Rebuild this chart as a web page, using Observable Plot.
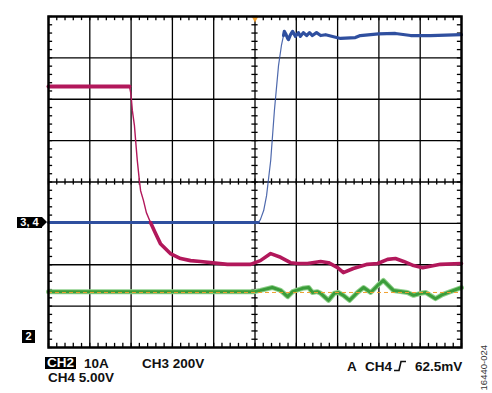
<!DOCTYPE html>
<html><head><meta charset="utf-8">
<script src="https://cdn.jsdelivr.net/npm/d3@7"></script>
<script src="https://cdn.jsdelivr.net/npm/@observablehq/plot@0.6"></script>
<style>
body{margin:0;background:#fff;font-family:"Liberation Sans",Arial,sans-serif;}
#wrap{position:relative;width:492px;height:393px;overflow:hidden;}
#wrap svg{position:absolute;left:0;top:0;}
.lbl{position:absolute;font-weight:bold;font-size:13.5px;color:#111;white-space:nowrap;line-height:13px;}
.box{background:#000;color:#fff;padding:0 2px;line-height:12px;}
.marker{position:absolute;background:#000;color:#fff;font-weight:bold;font-size:11px;text-align:center;white-space:nowrap;}
.marker.arrow::after{content:"";position:absolute;right:-5px;top:0;border-left:5px solid #000;border-top:5.5px solid transparent;border-bottom:5.5px solid transparent;}
.code{position:absolute;font-size:9.5px;color:#333;writing-mode:vertical-rl;transform:rotate(180deg);white-space:nowrap;}
</style></head><body><div id="wrap"></div>
<script>
// x in horizontal divisions (0-10), y in vertical divisions (0-8)
const blueX = [0,5.08,5.13,5.21,5.28,5.38,5.47,5.57,5.64,5.69,5.71,5.74,5.79,5.81,5.86,5.91,5.98,6.05,6.10,6.17,6.25,6.32,6.39,6.49,6.59,6.71,6.95,7.07,7.43,7.55,7.99,8.40,8.77,9.25,10];
const blueY = [3.02,3.02,3.09,3.31,3.67,4.52,5.73,6.82,7.30,7.54,7.64,7.59,7.47,7.44,7.56,7.64,7.52,7.61,7.52,7.61,7.54,7.61,7.54,7.61,7.54,7.56,7.50,7.47,7.49,7.54,7.58,7.59,7.54,7.54,7.56];
const magX = [0,1.96,1.99,2.01,2.03,2.08,2.11,2.15,2.20,2.23,2.30,2.37,2.47,2.59,2.71,2.95,3.20,3.44,3.68,4.33,4.89,5.13,5.38,5.62,5.86,6.03,6.27,6.59,6.78,7.00,7.14,7.38,7.72,7.97,8.21,8.40,8.60,8.84,9.06,9.49,10];
const magY = [6.31,6.31,6.16,5.97,5.73,5.37,5.00,4.52,4.04,3.79,3.55,3.26,3.02,2.76,2.51,2.27,2.15,2.10,2.08,2.01,2.01,2.10,2.27,2.18,2.05,2.03,2.03,2.08,2.05,1.93,1.81,1.91,2.01,2.03,2.13,2.15,2.08,1.98,1.93,2.01,2.03];
const greenX = [0,4.99,5.13,5.42,5.62,5.79,5.91,6.15,6.30,6.39,6.51,6.59,6.78,6.92,7.02,7.14,7.29,7.48,7.63,7.80,7.97,8.11,8.23,8.35,8.69,8.84,9.01,9.13,9.37,9.54,9.73,10];
const greenY = [1.35,1.35,1.38,1.45,1.38,1.23,1.35,1.43,1.45,1.33,1.35,1.31,1.14,1.31,1.33,1.26,1.14,1.33,1.45,1.33,1.50,1.62,1.50,1.38,1.33,1.26,1.31,1.33,1.18,1.28,1.35,1.45];
const triggerLevel = 1.33;
const marker34 = 3.02;
const marker2 = 0.25;
const gridX = [1,2,3,4,5,6,7,8,9];
const gridY = [1,2,3,4,5,6,7];

const pts = (xs, ys) => xs.map((x, i) => ({x, y: ys[i]}));
const blue = pts(blueX, blueY), mag = pts(magX, magY), green = pts(greenX, greenY);
const minorX = d3.range(0, 10.001, 0.2), minorY = d3.range(0, 8.001, 0.2);
const T = 0.1, C = 0.075;
const tk = {stroke: "#000", strokeWidth: 1.3};
const BLUE = "#2f4f9f", MAG = "#b2185b", GREEN = "#3b9d3a";

const chart = Plot.plot({
  width: 492, height: 350,
  marginLeft: 48, marginRight: 31, marginTop: 16, marginBottom: 3,
  x: {domain: [0, 10], axis: null},
  y: {domain: [0, 8], axis: null},
  marks: [
    Plot.ruleX(gridX, {...tk}),
    Plot.ruleY(gridY, {...tk}),
    Plot.ruleX(minorX, {x: d => d, y1: 8, y2: 8 - T, ...tk}),
    Plot.ruleX(minorX, {x: d => d, y1: 0, y2: T, ...tk}),
    Plot.ruleY(minorY, {y: d => d, x1: 0, x2: T, ...tk}),
    Plot.ruleY(minorY, {y: d => d, x1: 10, x2: 10 - T, ...tk}),
    Plot.ruleX(minorX, {x: d => d, y1: 4 - C, y2: 4 + C, ...tk}),
    Plot.ruleY(minorY, {y: d => d, x1: 5 - C, x2: 5 + C, ...tk}),
    // blue
    Plot.line(blue, {x: "x", y: "y", stroke: BLUE, strokeWidth: 1.2, strokeOpacity: 0.85}),
    Plot.line(blue.slice(0, 2), {x: "x", y: "y", stroke: BLUE, strokeWidth: 3}),
    Plot.line(blue.slice(9), {x: "x", y: "y", stroke: BLUE, strokeWidth: 3.2}),
    // magenta
    Plot.line(mag, {x: "x", y: "y", stroke: MAG, strokeWidth: 1.4}),
    Plot.line(mag.slice(0, 2), {x: "x", y: "y", stroke: MAG, strokeWidth: 4}),
    Plot.line(mag.slice(12), {x: "x", y: "y", stroke: MAG, strokeWidth: 3.6}),
    // green
    Plot.line(green, {x: "x", y: "y", stroke: "#8fcf8a", strokeWidth: 5}),
    Plot.line(green, {x: "x", y: "y", stroke: GREEN, strokeWidth: 3}),
    // trigger level
    Plot.ruleY([triggerLevel], {stroke: "#f0a030", strokeWidth: 1, strokeDasharray: "4,3"}),
    Plot.dot([5], {x: d => d, y: 8, symbol: "triangle", r: 2.5, fill: "#f0a030", rotate: 180, dy: 2}),
    Plot.frame({stroke: "#000", strokeWidth: 2.5})
  ]
});
const wrap = document.getElementById("wrap");
wrap.appendChild(chart);

const ys = chart.scale("y");
function addEl(cls, html, style) {
  const d = document.createElement("div");
  d.className = cls; d.innerHTML = html;
  Object.assign(d.style, style);
  wrap.appendChild(d);
  return d;
}
const y34 = ys.apply(marker34), y2 = ys.apply(marker2);
addEl("marker arrow", "3, 4", {left: "17px", top: (y34 - 5.5) + "px", width: "25px", height: "11px", lineHeight: "11px"});
addEl("marker", "2", {left: "22px", top: (y2 - 6.5) + "px", width: "13px", height: "13px", lineHeight: "13px"});

addEl("lbl box", "CH2", {left: "45px", top: "357px"});
addEl("lbl", "10A", {left: "84px", top: "357px"});
addEl("lbl", "CH3 200V", {left: "142px", top: "357px"});
addEl("lbl", "CH4 5.00V", {left: "48px", top: "371px"});
addEl("lbl", "A", {left: "347px", top: "359.5px"});
addEl("lbl", "CH4", {left: "365px", top: "359.5px"});
addEl("lbl", '<svg width="13" height="12" style="display:block"><path d="M0 10.5 H5 L7 1.5 H12" fill="none" stroke="#111" stroke-width="1.6"/></svg>', {left: "394px", top: "360px"});
addEl("lbl", "62.5mV", {left: "415px", top: "359.5px"});
addEl("code", "16440-024", {left: "478px", top: "345px"});
</script>
</body></html>
